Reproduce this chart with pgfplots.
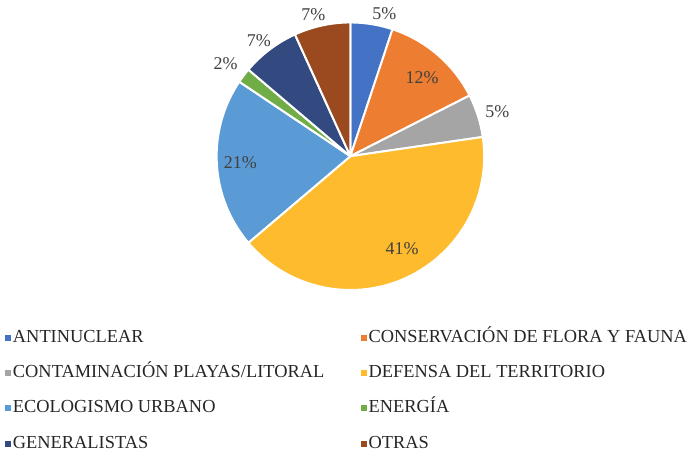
\documentclass[border=0pt]{standalone}
\usepackage{pgfplots}
\usepackage{pgfplotstable}
\pgfplotsset{compat=1.18}
\usepackage{fontspec}
\setmainfont{Liberation Serif}
\definecolor{c0}{HTML}{4472C4}
\definecolor{c1}{HTML}{ED7D31}
\definecolor{c2}{HTML}{A5A5A5}
\definecolor{c3}{HTML}{FDBB2D}
\definecolor{c4}{HTML}{5B9BD5}
\definecolor{c5}{HTML}{70AD47}
\definecolor{c6}{HTML}{334A80}
\definecolor{c7}{HTML}{9B4A20}
\definecolor{lbl}{HTML}{404040}
\definecolor{leg}{HTML}{262626}

% value (%), label angle (deg clockwise from top), label radius (bp)
\pgfplotstableread{
idx val la lr
0 5.1 13.4 147.2
1 12.4 42.3 106.9
2 5.2 73.1 154
3 41.1 150.7 106
4 20.6 266.8 110.5
5 1.8 306.5 155.5
6 7.0 321.6 147.7
7 6.8 345.3 146.3
}\piedata

\def\cx{351}
\def\cy{296.5}
\def\rr{134}

\xdef\cum{0}
\pgfplotsinvokeforeach{0,...,7}{%
  \pgfplotstablegetelem{#1}{val}\of\piedata
  \xdef\pv{\pgfplotsretval}%
  \expandafter\xdef\csname pv#1\endcsname{\pgfplotsretval}%
  \pgfmathparse{90-3.6*\cum}\expandafter\xdef\csname aS#1\endcsname{\pgfmathresult}%
  \pgfmathparse{\cum+\pv}\xdef\cum{\pgfmathresult}%
  \pgfmathparse{90-3.6*\cum}\expandafter\xdef\csname aE#1\endcsname{\pgfmathresult}%
  \pgfplotstablegetelem{#1}{la}\of\piedata
  \xdef\pla{\pgfplotsretval}%
  \pgfplotstablegetelem{#1}{lr}\of\piedata
  \xdef\plr{\pgfplotsretval}%
  \pgfmathparse{\cx+\plr*sin(\pla)}\expandafter\xdef\csname lx#1\endcsname{\pgfmathresult}%
  \pgfmathparse{\cy+\plr*cos(\pla)}\expandafter\xdef\csname ly#1\endcsname{\pgfmathresult}%
}

\begin{document}
\begin{tikzpicture}
\begin{axis}[
  x=1bp, y=1bp,
  xmin=0, xmax=689, ymin=0, ymax=453,
  hide axis, clip=false,
  legend columns=2,
  legend cell align=left,
  legend image code/.code={\fill[#1] (0bp,-3bp) rectangle (6bp,3bp);},
  legend style={
    at={(axis cs:5,123)}, anchor=north west,
    draw=none, fill=none, inner sep=0pt, outer sep=0pt,
    font=\fontsize{18.4bp}{21bp}\selectfont, text=leg,
    row sep=18.3bp,
    nodes={inner xsep=2bp, inner ysep=0pt, text height=13bp, text depth=4bp},
    /tikz/every even column/.append style={column sep=34.5bp},
  },
]
\path (axis cs:0,0) (axis cs:689,453);
\pgfplotsinvokeforeach{0,...,7}{%
  \fill[c#1, draw=white, line width=2bp, line join=round]
    (axis cs:\cx,\cy) -- ++(\csname aS#1\endcsname:\rr bp)
    arc[start angle=\csname aS#1\endcsname, end angle=\csname aE#1\endcsname, radius=\rr bp] -- cycle;
}
\pgfplotsinvokeforeach{0,...,7}{%
  \node[text=lbl, font=\fontsize{18bp}{21bp}\selectfont, inner sep=0pt]
    at (axis cs:\csname lx#1\endcsname,\csname ly#1\endcsname)
    {\pgfmathprintnumber[fixed,precision=0,assume math mode=true]{\csname pv#1\endcsname}\%};
}
\addlegendimage{fill=c0, draw=none}
\addlegendimage{fill=c1, draw=none}
\addlegendimage{fill=c2, draw=none}
\addlegendimage{fill=c3, draw=none}
\addlegendimage{fill=c4, draw=none}
\addlegendimage{fill=c5, draw=none}
\addlegendimage{fill=c6, draw=none}
\addlegendimage{fill=c7, draw=none}
\legend{ANTINUCLEAR, CONSERVACIÓN DE FLORA Y FAUNA, CONTAMINACIÓN PLAYAS/LITORAL, DEFENSA DEL TERRITORIO, ECOLOGISMO URBANO, ENERGÍA, GENERALISTAS, OTRAS}
\end{axis}
\end{tikzpicture}
\end{document}
